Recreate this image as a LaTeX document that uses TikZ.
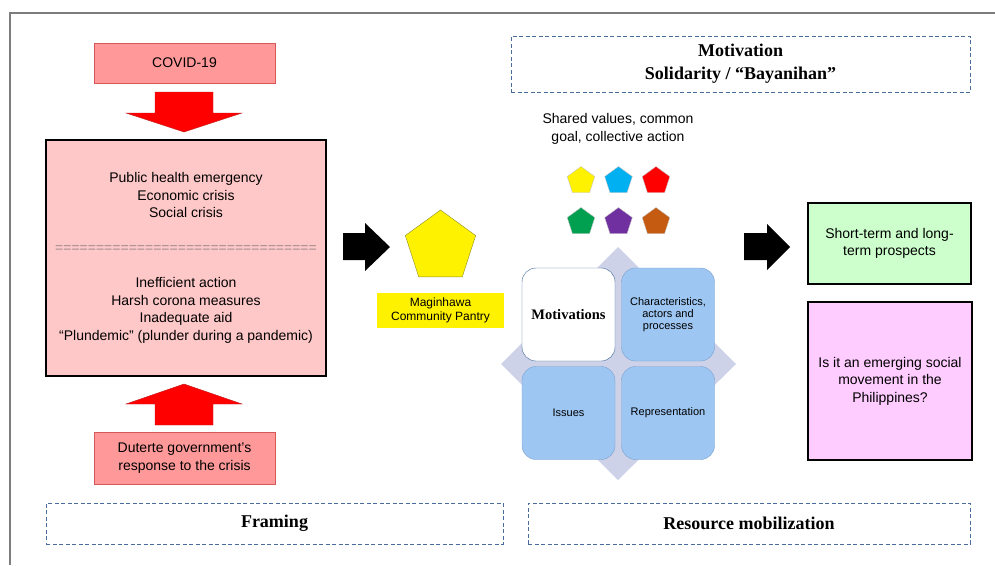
\documentclass[tikz,border=0pt]{standalone}
\usepackage{fontspec}
\setmainfont{Liberation Sans}
\newfontfamily\headfont{Liberation Serif}
\usetikzlibrary{shapes.geometric}

\definecolor{covidfill}{RGB}{255,153,153}
\definecolor{covidedge}{RGB}{214,88,88}
\definecolor{crisisfill}{RGB}{255,200,200}
\definecolor{arrowedge}{RGB}{190,30,30}
\definecolor{dashblue}{RGB}{74,108,156}
\definecolor{framegray}{RGB}{125,125,125}
\definecolor{eqgray}{RGB}{160,140,140}
\definecolor{diamondfill}{RGB}{205,210,232}
\definecolor{quadfill}{RGB}{157,198,243}
\definecolor{quadedge}{RGB}{120,160,205}
\definecolor{quadedgedark}{RGB}{60,100,150}
\definecolor{prospectfill}{RGB}{204,255,204}
\definecolor{questionfill}{RGB}{255,204,255}
\definecolor{pentedge}{RGB}{140,140,40}
\definecolor{pcyan}{RGB}{0,176,240}
\definecolor{pgreen}{RGB}{0,160,80}
\definecolor{ppurple}{RGB}{112,48,160}
\definecolor{pbrown}{RGB}{197,90,17}

\begin{document}
\begin{tikzpicture}[x=1pt,y=-1pt,
  bodytext/.style={font=\fontsize{14}{17.5}\selectfont, align=center},
  headtext/.style={font=\headfont\bfseries\fontsize{18}{23}\selectfont, align=center},
  redbox/.style={draw=covidedge, fill=covidfill, minimum width=181pt, inner sep=0pt, bodytext},
  heavybox/.style={draw=black, line width=1.6pt, inner sep=0pt, bodytext},
  dashbox/.style={draw=dashblue, dash pattern=on 4pt off 2.5pt, line width=0.8pt, minimum height=41pt, inner sep=0pt, headtext},
  quad/.style={draw=quadedge, fill=quadfill, rounded corners=14pt, minimum width=93pt, minimum height=93pt, inner sep=2pt, align=center, font=\fontsize{11}{12}\selectfont},
  pent/.style={regular polygon, regular polygon sides=5, minimum size=29pt, inner sep=0pt, draw=gray!45}]
\useasboundingbox (0,0) rectangle (995,565);

\draw [framegray, line width=1.5pt] (10,565) -- (10,13) -- (995,13);

% framing side
\node [redbox, minimum height=40pt] (covid) at (184.5,63) {COVID-19};
\fill [red, draw=arrowedge, line width=0.4pt] (155,92) -- (213,92) -- (213,113) -- (242,113) -- (184,132) -- (126,113) -- (155,113) -- cycle;

\node [heavybox, fill=crisisfill, minimum width=280pt, minimum height=236pt] (crisis) at (186,258)
  {Public health emergency\\Economic crisis\\Social crisis\\[17.5pt]
   {\color{eqgray}================================}\\[17.5pt]
   Inefficient action\\Harsh corona measures\\Inadequate aid\\“Plundemic” (plunder during a pandemic)};

\fill [red, draw=arrowedge, line width=0.4pt] (184,384) -- (242,404) -- (213,404) -- (213,425) -- (155,425) -- (155,404) -- (126,404) -- cycle;
\node [redbox, minimum height=52pt] (duterte) at (184.5,458) {Duterte government’s\\response to the crisis};

\node [dashbox, minimum width=457pt] (framing) at (274.5,523.5) {Framing};

% community pantry
\fill [black] (343,233) -- (365,233) -- (365,223) -- (390,247) -- (365,271) -- (365,260) -- (343,260) -- cycle;
\node [regular polygon, regular polygon sides=5, minimum size=74pt, inner sep=0pt, fill=yellow, draw=pentedge] (pantry) at (440.5,247) {};
\node [fill=yellow, minimum width=127pt, minimum height=35pt, inner sep=0pt, align=center, font=\fontsize{12}{14}\selectfont] (maginhawa) at (440.5,310.5) {Maginhawa\\Community Pantry};

% resource mobilization side
\node [dashbox, minimum width=459pt, minimum height=56pt] (motiv) at (740.5,64) {Motivation\\Solidarity / “Bayanihan”};
\node [bodytext] (shared) at (618,129) {Shared values, common\\goal, collective action};

\node [pent, fill=yellow] (p1) at (581,181) {};
\node [pent, fill=pcyan] (p2) at (618.5,181) {};
\node [pent, fill=red] (p3) at (656,181) {};
\node [pent, fill=pgreen] (p4) at (581,222) {};
\node [pent, fill=ppurple] (p5) at (618.5,222) {};
\node [pent, fill=pbrown] (p6) at (656,222) {};

\fill [diamondfill] (618,247) -- (736,364) -- (618,480) -- (501,364) -- cycle;
\node [quad, fill=white, draw=quadedgedark, font=\headfont\bfseries\fontsize{14.5}{16}\selectfont] (q1) at (568.5,314.5) {Motivations};
\node [quad] (q2) at (668,314.5) {Characteristics,\\actors and\\processes};
\node [quad] (q3) at (568.5,413) {Issues};
\node [quad] (q4) at (668,413) {Representation};

\fill [black] (744,233) -- (767,233) -- (767,224) -- (790,247) -- (767,270) -- (767,260) -- (744,260) -- cycle;
\node [heavybox, fill=prospectfill, minimum width=163pt, minimum height=81pt] (prospects) at (889.5,243.5) {Short-term and long-\\term prospects};
\node [heavybox, fill=questionfill, minimum width=164pt, minimum height=158pt] (question) at (890,381) {Is it an emerging social\\movement in the\\Philippines?};

\node [dashbox, minimum width=442pt] (resmob) at (749,523.5) {Resource mobilization};
\end{tikzpicture}
\end{document}
